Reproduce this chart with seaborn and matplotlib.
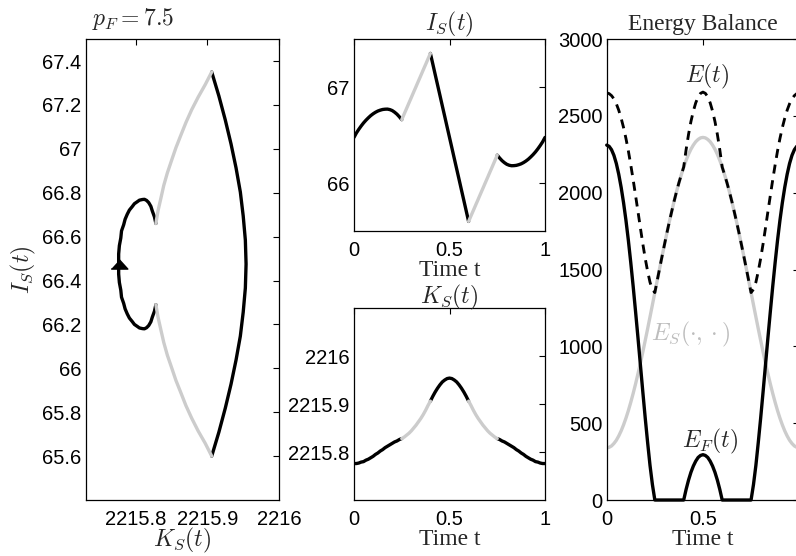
import matplotlib
matplotlib.use("Agg")
import numpy as np
import pandas as pd
import seaborn as sns
import matplotlib.pyplot as plt
from matplotlib.ticker import FuncFormatter

# time grid (one period)
t = [0.0, 0.0125, 0.025, 0.0375, 0.05, 0.0625, 0.075, 0.0875, 0.1, 0.1125,
     0.125, 0.1375, 0.15, 0.1625, 0.175, 0.1875, 0.2, 0.2125, 0.225, 0.2375,
     0.25, 0.2625, 0.275, 0.2875, 0.3, 0.3125, 0.325, 0.3375, 0.35, 0.3625,
     0.375, 0.3875, 0.4, 0.4125, 0.425, 0.4375, 0.45, 0.4625, 0.475, 0.4875,
     0.5, 0.5125, 0.525, 0.5375, 0.55, 0.5625, 0.575, 0.5875, 0.6, 0.6125,
     0.625, 0.6375, 0.65, 0.6625, 0.675, 0.6875, 0.7, 0.7125, 0.725, 0.7375,
     0.75, 0.7625, 0.775, 0.7875, 0.8, 0.8125, 0.825, 0.8375, 0.85, 0.8625,
     0.875, 0.8875, 0.9, 0.9125, 0.925, 0.9375, 0.95, 0.9625, 0.975, 0.9875,
     1.0]

I_S = [66.475, 66.521, 66.559, 66.594, 66.626, 66.654, 66.679, 66.702, 66.721, 66.737,
       66.750, 66.759, 66.766, 66.769, 66.770, 66.765, 66.755, 66.738, 66.717, 66.690,
       66.660, 66.718, 66.775, 66.833, 66.890, 66.948, 67.005, 67.063, 67.120, 67.178,
       67.235, 67.293, 67.350, 67.241, 67.131, 67.022, 66.913, 66.803, 66.694, 66.584,
       66.475, 66.366, 66.256, 66.147, 66.038, 65.928, 65.819, 65.709, 65.600, 65.658,
       65.715, 65.773, 65.830, 65.888, 65.945, 66.003, 66.060, 66.118, 66.175, 66.233,
       66.290, 66.260, 66.233, 66.212, 66.195, 66.185, 66.180, 66.181, 66.184, 66.191,
       66.200, 66.213, 66.229, 66.248, 66.271, 66.296, 66.324, 66.356, 66.391, 66.429,
       66.475]

K_S = [2215.776, 2215.776, 2215.777, 2215.779, 2215.780, 2215.783, 2215.785, 2215.788, 2215.791, 2215.795,
       2215.798, 2215.802, 2215.805, 2215.809, 2215.812, 2215.815, 2215.818, 2215.821, 2215.823, 2215.826,
       2215.828, 2215.831, 2215.835, 2215.839, 2215.844, 2215.850, 2215.856, 2215.863, 2215.870, 2215.878,
       2215.887, 2215.897, 2215.906, 2215.916, 2215.925, 2215.933, 2215.940, 2215.946, 2215.950, 2215.953,
       2215.954, 2215.953, 2215.950, 2215.946, 2215.940, 2215.933, 2215.925, 2215.916, 2215.906, 2215.897,
       2215.887, 2215.878, 2215.870, 2215.863, 2215.856, 2215.850, 2215.844, 2215.839, 2215.835, 2215.831,
       2215.828, 2215.826, 2215.823, 2215.821, 2215.818, 2215.815, 2215.812, 2215.809, 2215.805, 2215.802,
       2215.798, 2215.795, 2215.791, 2215.788, 2215.785, 2215.783, 2215.780, 2215.779, 2215.777, 2215.776,
       2215.776]

# energy balance panel
E_S = [340, 343, 352, 368, 389, 417, 450, 489, 533, 582,
       636, 694, 756, 822, 891, 963, 1038, 1114, 1192, 1271,
       1350, 1429, 1508, 1586, 1662, 1737, 1809, 1877, 1944, 2006,
       2064, 2117, 2167, 2211, 2250, 2283, 2310, 2332, 2347, 2357,
       2360, 2357, 2347, 2332, 2310, 2283, 2250, 2211, 2167, 2117,
       2064, 2006, 1944, 1877, 1809, 1737, 1662, 1586, 1508, 1429,
       1350, 1271, 1192, 1114, 1038, 963, 891, 822, 756, 694,
       636, 582, 533, 489, 450, 417, 389, 368, 352, 343,
       340]
E_F = [2310, 2302, 2280, 2243, 2190, 2120, 2035, 1935, 1820, 1690,
       1545, 1390, 1225, 1055, 880, 705, 535, 375, 225, 100,
       0, 0, 0, 0, 0, 0, 0, 0, 0, 0,
       0, 0, 0, 69, 129, 180, 221, 253, 277, 290,
       295, 290, 277, 253, 221, 180, 129, 69, 0, 0,
       0, 0, 0, 0, 0, 0, 0, 0, 0, 0,
       0, 100, 225, 375, 535, 705, 880, 1055, 1225, 1390,
       1545, 1690, 1820, 1935, 2035, 2120, 2190, 2243, 2280, 2302,
       2310]
E_tot = [2650, 2645, 2632, 2611, 2579, 2537, 2485, 2424, 2353, 2272,
         2181, 2084, 1981, 1877, 1771, 1668, 1573, 1489, 1417, 1371,
         1350, 1429, 1508, 1586, 1662, 1737, 1809, 1877, 1944, 2006,
         2064, 2117, 2167, 2280, 2379, 2463, 2531, 2585, 2624, 2647,
         2655, 2647, 2624, 2585, 2531, 2463, 2379, 2280, 2167, 2117,
         2064, 2006, 1944, 1877, 1809, 1737, 1662, 1586, 1508, 1429,
         1350, 1371, 1417, 1489, 1573, 1668, 1771, 1877, 1981, 2084,
         2181, 2272, 2353, 2424, 2485, 2537, 2579, 2611, 2632, 2645,
         2650]

# pieces of the cycle: black where E_F > 0, grey where E_F = 0
seg_bounds = [0, 20, 32, 48, 60, 80]
seg_shade = ["on", "off", "on", "off", "on"]

rows = []
for k in range(len(seg_shade)):
    for i in range(seg_bounds[k], seg_bounds[k + 1] + 1):
        rows.append({"t": t[i], "I": I_S[i], "K": K_S[i], "seg": k, "shade": seg_shade[k]})
df = pd.DataFrame(rows)
energy = pd.DataFrame({"t": t, "E_S": E_S, "E_F": E_F, "E": E_tot})

sns.set_style("white")
plt.rcParams["font.family"] = ["Liberation Sans", "DejaVu Sans"]
plt.rcParams["mathtext.fontset"] = "cm"
plt.rcParams["axes.linewidth"] = 0.9

GREY = "#cccccc"
pal = {"on": "black", "off": GREY}
LW = 2.4
serif = {"family": "Liberation Serif", "size": 17}
MSIZE = 17
TSIZE = 14.5
TPAD = 6.5

fig = plt.figure(figsize=(7.96, 5.56), dpi=100)
ax1 = fig.add_axes([0.1077, 0.1007, 0.2428, 0.829])
ax2 = fig.add_axes([0.4447, 0.5845, 0.2400, 0.3453])
ax3 = fig.add_axes([0.4447, 0.1007, 0.2400, 0.3453])
ax4 = fig.add_axes([0.7622, 0.1007, 0.2418, 0.829])

fmt = FuncFormatter(lambda v, p: f"{v:g}")
for ax in (ax1, ax2, ax3, ax4):
    for s in ax.spines.values():
        s.set_color("black")
        s.set_visible(True)
    ax.tick_params(direction="in", top=True, right=True, length=4, width=0.8,
                   labelsize=TSIZE, colors="black")
    ax.tick_params(axis="x", pad=7)
    ax.tick_params(axis="y", pad=3)

# phase portrait
sns.lineplot(data=df, x="K", y="I", hue="shade", units="seg", estimator=None,
             palette=pal, sort=False, linewidth=LW, legend=False, ax=ax1)
ax1.plot([K_S[0]], [I_S[0]], marker=[(-1, -0.55), (1, -0.55), (0, 0.55)],
         markersize=12, color="black", linestyle="none")
ax1.set_xlim(2215.73, 2216.0)
ax1.set_ylim(65.4, 67.5)
ax1.set_xticks([2215.8, 2215.9, 2216.0])
ax1.set_yticks([65.6, 65.8, 66.0, 66.2, 66.4, 66.6, 66.8, 67.0, 67.2, 67.4])
ax1.xaxis.set_major_formatter(fmt)
ax1.yaxis.set_major_formatter(fmt)
ax1.set_xlabel("$K_S(t)$", fontsize=MSIZE, labelpad=-2)
ax1.set_ylabel("$I_S(t)$", fontsize=MSIZE, labelpad=3)
ax1.text(0.035, 1.016, "$p_F = 7.5$", transform=ax1.transAxes, fontsize=MSIZE,
         ha="left", va="bottom")

# I_S(t)
sns.lineplot(data=df, x="t", y="I", hue="shade", units="seg", estimator=None,
             palette=pal, linewidth=LW, legend=False, ax=ax2)
ax2.set_xlim(0, 1)
ax2.set_ylim(65.5, 67.5)
ax2.set_xticks([0, 0.5, 1])
ax2.set_yticks([66, 67])
ax2.xaxis.set_major_formatter(fmt)
ax2.yaxis.set_major_formatter(fmt)
ax2.set_xlabel("Time t", fontdict=serif, labelpad=0)
ax2.set_ylabel("")
ax2.set_title("$I_S(t)$", fontsize=MSIZE, pad=TPAD)

# K_S(t)
sns.lineplot(data=df, x="t", y="K", hue="shade", units="seg", estimator=None,
             palette=pal, linewidth=LW, legend=False, ax=ax3)
ax3.set_xlim(0, 1)
ax3.set_ylim(2215.7, 2216.1)
ax3.set_xticks([0, 0.5, 1])
ax3.set_yticks([2215.8, 2215.9, 2216.0])
ax3.xaxis.set_major_formatter(fmt)
ax3.yaxis.set_major_formatter(fmt)
ax3.set_xlabel("Time t", fontdict=serif, labelpad=0)
ax3.set_ylabel("")
ax3.set_title("$K_S(t)$", fontsize=MSIZE, pad=3.5)

# energy balance
sns.lineplot(data=energy, x="t", y="E_S", color=GREY, linewidth=LW, ax=ax4)
sns.lineplot(data=energy, x="t", y="E_F", color="black", linewidth=LW, ax=ax4, clip_on=False)
sns.lineplot(data=energy, x="t", y="E", color="black", linewidth=LW * 0.85,
             linestyle=(0, (3.2, 2.4)), ax=ax4)
ax4.set_xlim(0, 1)
ax4.set_ylim(0, 3000)
ax4.set_xticks([0, 0.5])
ax4.set_yticks([0, 500, 1000, 1500, 2000, 2500, 3000])
ax4.xaxis.set_major_formatter(fmt)
ax4.yaxis.set_major_formatter(fmt)
ax4.set_xlabel("Time t", fontdict=serif, labelpad=0)
ax4.set_ylabel("")
ax4.set_title("Energy Balance", fontdict=serif, pad=TPAD)
ax4.text(0.519, 2760, "$E(t)$", fontsize=MSIZE, ha="center", va="center")
ax4.text(0.437, 1080, r"$E_S(\cdot,\cdot)$", fontsize=MSIZE, color="#bdbdbd",
         ha="center", va="center")
ax4.text(0.537, 380, "$E_F(t)$", fontsize=MSIZE, ha="center", va="center")

fig.savefig("out.png", dpi=100)
